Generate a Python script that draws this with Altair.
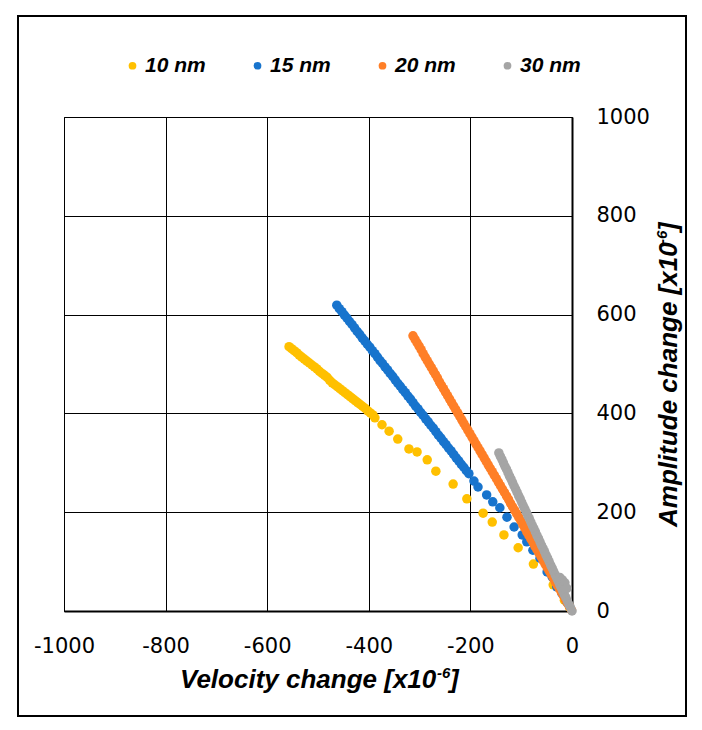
import altair as alt
import pandas as pd

# ---- data ----
series_names = ["10 nm", "15 nm", "20 nm", "30 nm"]
series_colors = ["#FFC000", "#1874CD", "#FF7F27", "#A5A5A5"]

x10 = [-557, -552, -547, -542, -537, -532, -527, -522, -517, -512, -507, -502,
       -497, -492, -487, -482, -477, -472, -467, -462, -457, -452, -447, -442,
       -437, -432, -427, -422, -417, -412, -407, -402, -397, -392,
       -388, -374, -360, -343, -321, -305, -285, -268, -234, -207, -175, -157,
       -134, -106, -76, -37, -15, -5]
y10 = [535, 531, 527, 523, 518, 514, 510, 506, 502, 498, 494, 490,
       485, 481, 477, 473, 467, 462, 458, 454, 450, 446, 442, 438,
       434, 430, 426, 422, 418, 414, 410, 405, 401, 397,
       391, 377, 364, 348, 328, 322, 306, 283, 257, 227, 198, 180,
       154, 128, 95, 53, 22, 8]

x15 = [-463, -458, -453, -448, -443, -438, -433, -428, -423, -418, -413, -408,
       -403, -398, -393, -388, -383, -378, -373, -368, -363, -358, -353, -348,
       -343, -338, -333, -328, -323, -318, -313, -308, -303, -298, -293, -288,
       -283, -278, -273, -268, -263, -258, -253, -248, -243, -238, -233, -228,
       -223, -218, -213, -208, -203,
       -193, -185, -168, -156, -142, -128, -114, -98, -89, -77, -63, -49, -39,
       -30, -20, -10]
y15 = [619, 612, 606, 599, 593, 586, 580, 573, 566, 560, 553, 547,
       540, 534, 527, 521, 514, 507, 501, 494, 488, 481, 475, 468,
       461, 455, 448, 442, 435, 429, 422, 415, 409, 402, 396, 389,
       383, 376, 370, 363, 356, 350, 343, 337, 330, 324, 317, 310,
       304, 297, 291, 284, 278,
       263, 251, 235, 221, 209, 190, 170, 154, 140, 123, 107, 79, 69,
       49, 36, 18]

x20 = [-313, -309, -305, -301, -297, -293, -289, -285, -281, -277, -273, -269,
       -265, -261, -257, -253, -249, -245, -241, -237, -233, -229, -225, -221,
       -217, -213, -209, -205, -201, -197, -193, -189, -185, -181, -177, -173,
       -169, -165, -161, -157, -153, -149, -145, -141, -137, -133, -129, -125,
       -121, -117, -113, -109, -105, -101, -97, -93, -89, -85, -81, -77,
       -73, -69, -65, -61, -57, -53, -49, -45, -41, -37, -33, -29,
       -25, -21, -17, -13, -9, -5, -1]
y20 = [557, 550, 543, 536, 529, 521, 514, 507, 500, 493, 486, 479,
       472, 464, 457, 450, 443, 436, 429, 422, 415, 408, 401, 394,
       387, 380, 373, 366, 359, 352, 345, 338, 331, 324, 317, 310,
       303, 296, 289, 282, 275, 268, 261, 254, 247, 240, 233, 226,
       218, 211, 204, 197, 190, 183, 175, 168, 160, 153, 146, 139,
       131, 124, 117, 110, 102, 95, 88, 81, 74, 67, 59, 52,
       45, 38, 31, 23, 16, 9, 2]

x30 = [-144, -141, -138, -135, -132, -129, -126, -123, -120, -117, -114, -111,
       -108, -105, -102, -99, -96, -93, -90, -87, -84, -81, -78, -75,
       -72, -69, -66, -63, -60, -57, -54, -51, -48, -45, -42, -39,
       -36, -33, -30, -27, -24, -21, -18, -15, -12, -9, -6, -3, 0,
       -24, -19, -14, -10]
y30 = [320, 313, 307, 300, 293, 287, 280, 273, 267, 260, 253, 247,
       240, 233, 227, 220, 213, 207, 200, 193, 187, 180, 173, 167,
       160, 153, 147, 140, 133, 127, 120, 113, 107, 100, 93, 87,
       80, 73, 67, 60, 53, 47, 40, 33, 27, 20, 13, 7, 0,
       68, 63, 57, 46]

x_ticks = [-1000, -800, -600, -400, -200, 0]
y_ticks = [0, 200, 400, 600, 800, 1000]

x_title_parts = ["Velocity change [x10", "-6", "]"]
y_title_parts = ["Amplitude change [x10", "-6", "]"]

rows = []
for name, xs, ys in zip(series_names, [x10, x15, x20, x30], [y10, y15, y20, y30]):
    for xv, yv in zip(xs, ys):
        rows.append({"series": name, "vel": xv, "amp": yv})
df = pd.DataFrame(rows)
df["order"] = range(len(df))

W, H = 508, 494
TFONT = dict(font="Liberation Sans", fontWeight="bold", fontStyle="italic", color="#000")

points = alt.Chart(df).mark_circle(size=90, opacity=1).encode(
    x=alt.X("vel:Q",
            scale=alt.Scale(domain=[-1000, 0], nice=False, zero=False),
            axis=alt.Axis(values=x_ticks, title=None,
                          grid=True, ticks=False, tickSize=0,
                          labelExpr="'' + datum.value",
                          labelFlush=False, labelOverlap=False,
                          labelFont="DejaVu Sans", labelFontSize=21, labelColor="#000",
                          labelBaseline="alphabetic", labelPadding=41,
                          domainColor="#000", domainWidth=2)),
    y=alt.Y("amp:Q",
            scale=alt.Scale(domain=[0, 1000], nice=False),
            axis=alt.Axis(orient="right", values=y_ticks, title=None,
                          grid=True, ticks=False, tickSize=0,
                          labelExpr="'' + datum.value",
                          labelFlush=False, labelOverlap=False,
                          labelFont="DejaVu Sans", labelFontSize=21, labelColor="#000",
                          labelAlign="left", labelBaseline="middle", labelPadding=24,
                          domainColor="#000", domainWidth=2)),
    color=alt.Color("series:N",
                    scale=alt.Scale(domain=series_names, range=series_colors),
                    legend=alt.Legend(title=None, orient="none", direction="horizontal",
                                      legendX=58, legendY=-62, padding=0,
                                      symbolType="circle", symbolSize=60,
                                      symbolStrokeWidth=0, symbolOpacity=1,
                                      labelFont="Liberation Sans", labelFontSize=21,
                                      labelFontWeight="bold", labelFontStyle="italic",
                                      labelColor="#000", labelOffset=2,
                                      columnPadding=41)),
    order=alt.Order("order:Q"),
)

one = pd.DataFrame({"a": [0]})

border = alt.Chart(one).mark_rect(
    filled=False, stroke="#000", strokeWidth=2
).encode(
    x=alt.value(-46), x2=alt.value(622), y=alt.value(-101), y2=alt.value(599)
)

# x-axis title (with raised exponent)
xt1 = alt.Chart(one).mark_text(fontSize=26, align="left", baseline="alphabetic", **TFONT).encode(
    text=alt.value(x_title_parts[0]), x=alt.value(116), y=alt.value(571))
xt2 = alt.Chart(one).mark_text(fontSize=15, align="left", baseline="alphabetic", **TFONT).encode(
    text=alt.value(x_title_parts[1]), x=alt.value(373), y=alt.value(561))
xt3 = alt.Chart(one).mark_text(fontSize=26, align="left", baseline="alphabetic", **TFONT).encode(
    text=alt.value(x_title_parts[2]), x=alt.value(386), y=alt.value(571))

# y-axis title (rotated, reading upward)
yt1 = alt.Chart(one).mark_text(fontSize=26, align="left", baseline="alphabetic", angle=270, **TFONT).encode(
    text=alt.value(y_title_parts[0]), x=alt.value(613), y=alt.value(410))
yt2 = alt.Chart(one).mark_text(fontSize=15, align="left", baseline="alphabetic", angle=270, **TFONT).encode(
    text=alt.value(y_title_parts[1]), x=alt.value(603), y=alt.value(127))
yt3 = alt.Chart(one).mark_text(fontSize=26, align="left", baseline="alphabetic", angle=270, **TFONT).encode(
    text=alt.value(y_title_parts[2]), x=alt.value(613), y=alt.value(114))

chart = alt.layer(points, border, xt1, xt2, xt3, yt1, yt2, yt3).properties(
    width=W, height=H,
    padding={"left": 9, "top": 7, "right": 5, "bottom": 5},
    background="white",
).configure_view(
    stroke="#000", strokeWidth=1
).configure_axis(
    gridColor="#000", gridWidth=1, gridOpacity=1
)

chart.save("out.html", embed_options={"renderer": "svg", "actions": False})
